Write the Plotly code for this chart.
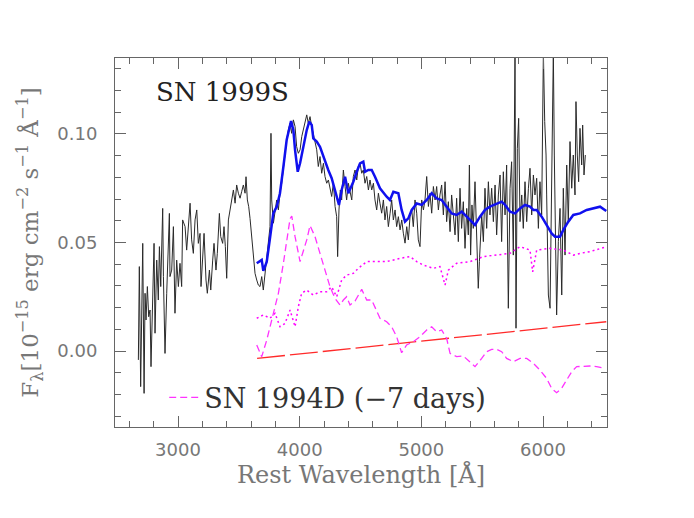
import plotly.graph_objects as go

# ---------------- data ----------------
# SN 1999S observed spectrum (noisy, black)
obs_wl = [2674, 2682, 2693, 2710, 2721, 2729, 2737, 2748, 2759, 2770, 2778, 2792, 2803, 2811, 2825, 2838,
          2847, 2858, 2874, 2880, 2893, 2907, 2929, 2934, 2948, 2962, 2975, 2989, 3003, 3016, 3030, 3038,
          3058, 3071, 3085, 3099, 3112, 3126, 3140, 3154, 3167, 3181, 3189, 3203, 3214, 3230, 3241, 3258,
          3269, 3285, 3296, 3312, 3323, 3340, 3351, 3367, 3378, 3389, 3400, 3414, 3427, 3441, 3455, 3469,
          3482, 3496, 3510, 3523, 3537, 3551, 3559, 3570, 3581, 3592, 3606, 3619, 3633, 3647, 3660, 3674,
          3688, 3701, 3715, 3729, 3743, 3756, 3764, 3770, 3784, 3797, 3811, 3825, 3838, 3852, 3866, 3880,
          3893, 3907, 3921, 3934, 3948, 3962, 3975, 3989, 4003, 4017, 4030, 4044, 4058, 4071, 4085, 4099,
          4112, 4126, 4140, 4153, 4167, 4181, 4195, 4208, 4222, 4236, 4249, 4263, 4277, 4291, 4304, 4312,
          4323, 4334, 4345, 4359, 4373, 4386, 4400, 4414, 4428, 4441, 4455, 4469, 4482, 4496, 4510, 4523,
          4537, 4551, 4565, 4578, 4592, 4606, 4619, 4633, 4647, 4660, 4674, 4688, 4701, 4715, 4729, 4743,
          4756, 4770, 4784, 4797, 4811, 4825, 4839, 4852, 4866, 4880, 4893, 4907, 4921, 4934, 4948, 4962,
          4975, 4989, 5003, 5017, 5030, 5044, 5058, 5071, 5085, 5099, 5113, 5126, 5140, 5153, 5167, 5181,
          5195, 5208, 5222, 5236, 5249, 5263, 5277, 5290, 5304, 5318, 5331, 5345, 5359, 5373, 5386, 5395,
          5405, 5416, 5427, 5441, 5455, 5468, 5477, 5496, 5510, 5523, 5537, 5551, 5564, 5578, 5592, 5606,
          5619, 5633, 5647, 5660, 5674, 5688, 5701, 5715, 5729, 5742, 5756, 5770, 5778, 5789, 5800, 5811,
          5825, 5838, 5852, 5866, 5880, 5893, 5907, 5921, 5934, 5948, 5962, 5975, 5989, 6003, 6014, 6025,
          6030, 6044, 6058, 6071, 6085, 6093, 6101, 6112, 6126, 6140, 6154, 6167, 6181, 6195, 6208, 6222,
          6236, 6249, 6263, 6271, 6282, 6293, 6304, 6318, 6326, 6337, 6348]
obs_flux = [-0.0041, 0.0389, -0.0164, 0.0496, -0.0195, 0.0266, 0.0143, 0.0297, 0.0158, 0.0189, -0.0072, 0.0266,
            0.0496, 0.0082, 0.0419, 0.0235, 0.0481, 0.0297, 0.0657, 0.0343, -0.0011, 0.0266, 0.0634, 0.0343,
            0.0373, 0.0573, 0.0174, 0.0419, 0.0297, 0.0404, 0.0297, 0.0604, 0.0573, 0.0465, 0.0588, 0.0681,
            0.0512, 0.0450, 0.0604, 0.0650, 0.0496, 0.0542, 0.0297, 0.0450, 0.0542, 0.0327, 0.0266, 0.0373,
            0.0281, 0.0419, 0.0496, 0.0373, 0.0450, 0.0634, 0.0527, 0.0496, 0.0573, 0.0481, 0.0335, 0.0604,
            0.0650, 0.0696, 0.0742, 0.0681, 0.0765, 0.0727, 0.0704, 0.0734, 0.0765, 0.0727, 0.0803, 0.0696,
            0.0665, 0.0611, 0.0512, 0.0419, 0.0358, 0.0327, 0.0304, 0.0297, 0.0343, 0.0281, 0.0358, 0.0450,
            0.0512, 0.0573, 0.1003, 0.0696, 0.0589, 0.0650, 0.0696, 0.0650, 0.0727, 0.0773, 0.0850, 0.0896,
            0.0973, 0.1019, 0.1049, 0.1003, 0.1065, 0.1034, 0.0942, 0.0911, 0.0927, 0.0988, 0.1019, 0.1065,
            0.1088, 0.1049, 0.1080, 0.1034, 0.1003, 0.0973, 0.0927, 0.0850, 0.0896, 0.0819, 0.0865, 0.0804,
            0.0773, 0.0788, 0.0742, 0.0712, 0.0773, 0.0666, 0.0619, 0.0435, 0.0650, 0.0742, 0.0696, 0.0834,
            0.0758, 0.0696, 0.0773, 0.0727, 0.0696, 0.0804, 0.0834, 0.0788, 0.0850, 0.0865, 0.0819, 0.0834,
            0.0773, 0.0804, 0.0742, 0.0788, 0.0742, 0.0773, 0.0696, 0.0650, 0.0727, 0.0681, 0.0635, 0.0696,
            0.0604, 0.0666, 0.0573, 0.0635, 0.0696, 0.0604, 0.0650, 0.0573, 0.0619, 0.0558, 0.0604, 0.0543,
            0.0497, 0.0573, 0.0512, 0.0619, 0.0650, 0.0573, 0.0696, 0.0635, 0.0512, 0.0481, 0.0696, 0.0650,
            0.0696, 0.0804, 0.0666, 0.0727, 0.0635, 0.0758, 0.0696, 0.0758, 0.0650, 0.0719, 0.0765, 0.0627,
            0.0780, 0.0596, 0.0688, 0.0550, 0.0719, 0.0627, 0.0535, 0.0704, 0.0504, 0.0750, 0.0565, 0.0688,
            0.0473, 0.0657, 0.0535, 0.0857, 0.0442, 0.0673, 0.0565, 0.0780, 0.0504, 0.0289, 0.0412, 0.0627,
            0.0504, 0.0750, 0.0565, 0.0780, 0.0627, 0.0750, 0.0596, 0.0765, 0.0535, 0.0719, 0.0811, 0.0504,
            0.0826, 0.0627, 0.0857, 0.0197, 0.0750, 0.0872, 0.0442, 0.1380, 0.0105, 0.0934, 0.1072, 0.0596,
            0.0719, 0.0565, 0.0780, 0.0596, 0.0750, 0.0842, 0.0627, 0.0811, 0.0719, 0.0796, 0.0565, 0.0780,
            0.0627, 0.1380, 0.1057, 0.0903, 0.0719, 0.0258, 0.0197, 0.0750, 0.1380, 0.0903, 0.0596, 0.0166,
            0.0504, 0.0657, 0.0258, 0.0750, 0.0442, 0.0857, 0.0596, 0.0965, 0.0750, 0.0903, 0.0719, 0.1149,
            0.0903, 0.0780, 0.1026, 0.0857, 0.1041, 0.0811, 0.0903]

# Smoothed / model spectrum (blue)
model_wl = [3647, 3688, 3701, 3729, 3756, 3783, 3811, 3838, 3866, 3893, 3929, 3948, 3962, 3984, 4003, 4030,
            4058, 4079, 4099, 4112, 4140, 4167, 4194, 4235, 4263, 4290, 4323, 4345, 4373, 4400, 4441, 4469,
            4496, 4523, 4537, 4564, 4592, 4619, 4660, 4715, 4742, 4770, 4811, 4838, 4866, 4893, 4921, 4962,
            5003, 5044, 5085, 5126, 5167, 5208, 5249, 5290, 5332, 5373, 5414, 5441, 5482, 5523, 5564, 5619,
            5660, 5688, 5729, 5770, 5811, 5852, 5893, 5921, 5948, 5989, 6030, 6071, 6099, 6140, 6167, 6208,
            6249, 6304, 6359, 6414, 6469, 6520]
model_flux = [0.0404, 0.0420, 0.0370, 0.0410, 0.0520, 0.0634, 0.0665, 0.0727, 0.0849, 0.0972, 0.1060, 0.1018,
              0.0926, 0.0826, 0.0865, 0.0941, 0.1018, 0.1057, 0.1041, 0.0980, 0.0965, 0.0941, 0.0895, 0.0834,
              0.0796, 0.0742, 0.0673, 0.0742, 0.0803, 0.0727, 0.0780, 0.0826, 0.0865, 0.0873, 0.0826, 0.0834,
              0.0834, 0.0803, 0.0750, 0.0711, 0.0696, 0.0734, 0.0727, 0.0650, 0.0596, 0.0611, 0.0650, 0.0680,
              0.0673, 0.0696, 0.0727, 0.0703, 0.0696, 0.0665, 0.0634, 0.0627, 0.0642, 0.0619, 0.0596, 0.0581,
              0.0619, 0.0650, 0.0665, 0.0680, 0.0688, 0.0673, 0.0642, 0.0634, 0.0657, 0.0673, 0.0665, 0.0650,
              0.0650, 0.0619, 0.0581, 0.0542, 0.0527, 0.0527, 0.0558, 0.0596, 0.0627, 0.0634, 0.0650, 0.0657,
              0.0665, 0.0645]

# SN 1994D (-7 days), dashed magenta
d94_wl = [3647, 3688, 3729, 3783, 3825, 3866, 3893, 3921, 3935, 3962, 4003, 4058, 4085, 4126, 4167, 4208,
          4249, 4290, 4331, 4359, 4386, 4414, 4455, 4510, 4551, 4592, 4660, 4715, 4756, 4797, 4838, 4879,
          4934, 4989, 5044, 5085, 5126, 5167, 5208, 5236, 5290, 5345, 5400, 5441, 5496, 5537, 5578, 5619,
          5660, 5701, 5756, 5811, 5866, 5921, 5975, 6030, 6071, 6112, 6153, 6194, 6236, 6277, 6331, 6386,
          6441, 6510]
d94_flux = [0.0028, -0.0026, 0.0050, 0.0174, 0.0266, 0.0404, 0.0510, 0.0610, 0.0622, 0.0527, 0.0412, 0.0512,
            0.0578, 0.0527, 0.0450, 0.0373, 0.0296, 0.0243, 0.0212, 0.0235, 0.0250, 0.0212, 0.0230, 0.0284,
            0.0235, 0.0235, 0.0151, 0.0135, 0.0112, 0.0066, -0.0008, 0.0028, 0.0043, 0.0066, 0.0097, 0.0112,
            0.0089, 0.0097, 0.0058, -0.0011, -0.0026, -0.0023, -0.0049, -0.0072, -0.0034, -0.0003, 0.0008,
            0.0008, -0.0003, -0.0034, -0.0049, -0.0034, -0.0034, -0.0057, -0.0088, -0.0126, -0.0172, -0.0192,
            -0.0172, -0.0134, -0.0095, -0.0072, -0.0069, -0.0069, -0.0072, -0.0080]

# second comparison spectrum, dotted magenta
dot_wl = [3647, 3701, 3756, 3797, 3838, 3879, 3921, 3962, 3989, 4016, 4058, 4112, 4167, 4222, 4263, 4304,
          4345, 4386, 4441, 4482, 4551, 4633, 4715, 4825, 4907, 4962, 5016, 5099, 5153, 5195, 5222, 5290,
          5400, 5510, 5619, 5729, 5811, 5893, 5915, 5948, 6058, 6167, 6249, 6304, 6386, 6469, 6524]
dot_flux = [0.0151, 0.0166, 0.0151, 0.0174, 0.0112, 0.0127, 0.0189, 0.0112, 0.0204, 0.0266, 0.0281, 0.0258,
            0.0273, 0.0273, 0.0296, 0.0250, 0.0327, 0.0350, 0.0358, 0.0381, 0.0412, 0.0412, 0.0412, 0.0427,
            0.0435, 0.0412, 0.0396, 0.0381, 0.0389, 0.0304, 0.0373, 0.0404, 0.0412, 0.0435, 0.0442, 0.0450,
            0.0481, 0.0465, 0.0365, 0.0465, 0.0473, 0.0465, 0.0442, 0.0450, 0.0458, 0.0473, 0.0481]

# straight continuum (red long dashes)
cont_wl = [3650, 6520]
cont_flux = [-0.0034, 0.0135]

x_ticks = [3000, 4000, 5000, 6000]
y_ticks = [0.00, 0.05, 0.10]

# ---------------- figure ----------------
fig = go.Figure()
fig.add_trace(go.Scatter(x=obs_wl, y=obs_flux, mode="lines", showlegend=False,
                         line=dict(color="#2a2a2a", width=1)))
fig.add_trace(go.Scatter(x=cont_wl, y=cont_flux, mode="lines", showlegend=False,
                         line=dict(color="#ff2a2a", width=1.3, dash="28px,5px")))
fig.add_trace(go.Scatter(x=dot_wl, y=dot_flux, mode="lines", showlegend=False,
                         line=dict(color="#ff00ff", width=1.5, dash="2px,3px")))
fig.add_trace(go.Scatter(x=d94_wl, y=d94_flux, mode="lines", name="SN 1994D (−7 days)",
                         line=dict(color="#ff33ff", width=1.3, dash="7px,4px")))
fig.add_trace(go.Scatter(x=model_wl, y=model_flux, mode="lines", showlegend=False,
                         line=dict(color="#1010ee", width=2.5)))

axis_common = dict(
    showline=True, linecolor="#666666", linewidth=1, mirror="allticks",
    ticks="inside", ticklen=11, tickcolor="#666666", tickwidth=1,
    showgrid=False, zeroline=False,
    tickfont=dict(family="DejaVu Sans", size=18, color="#777777"),
)

fig.update_xaxes(
    **axis_common, range=[2482, 6526], tickvals=x_ticks,
    ticktext=[str(v) for v in x_ticks], ticklabelstandoff=6,
    minor=dict(ticks="inside", ticklen=6, dtick=200, tick0=0, tickcolor="#666666", showgrid=False),
    title=dict(text="Rest Wavelength [Å]", standoff=6,
               font=dict(family="DejaVu Serif", size=24, color="#777777")),
)
fig.update_yaxes(
    **axis_common, range=[-0.035, 0.135], tickvals=y_ticks,
    ticktext=[f"{v:.2f}" for v in y_ticks], ticklabelstandoff=13,
    minor=dict(ticks="inside", ticklen=6, dtick=0.01, tick0=0, tickcolor="#666666", showgrid=False),
    title=dict(text="F<sub>λ</sub>[10<sup>−15</sup> erg cm<sup>−2</sup> s<sup>−1</sup> Å<sup>−1</sup>]",
               standoff=12, font=dict(family="DejaVu Serif", size=23, color="#777777")),
)

fig.add_annotation(text="SN 1999S", xref="paper", yref="paper", x=0.08, y=0.908,
                   xanchor="left", yanchor="middle", showarrow=False,
                   font=dict(family="DejaVu Serif", size=26, color="#222222"))

# page body has an 8px offset, so margins are shifted to place the plot box at 115..607 x 58..427
fig.update_layout(
    width=694, height=518,
    margin=dict(l=107, r=95, t=50, b=99, autoexpand=False),
    paper_bgcolor="white", plot_bgcolor="white",
    legend=dict(x=0.1, y=0.079, xanchor="left", yanchor="middle",
                bgcolor="rgba(0,0,0,0)", borderwidth=0,
                font=dict(family="DejaVu Serif", size=27, color="#333333")),
)

fig.write_html("out.html")
